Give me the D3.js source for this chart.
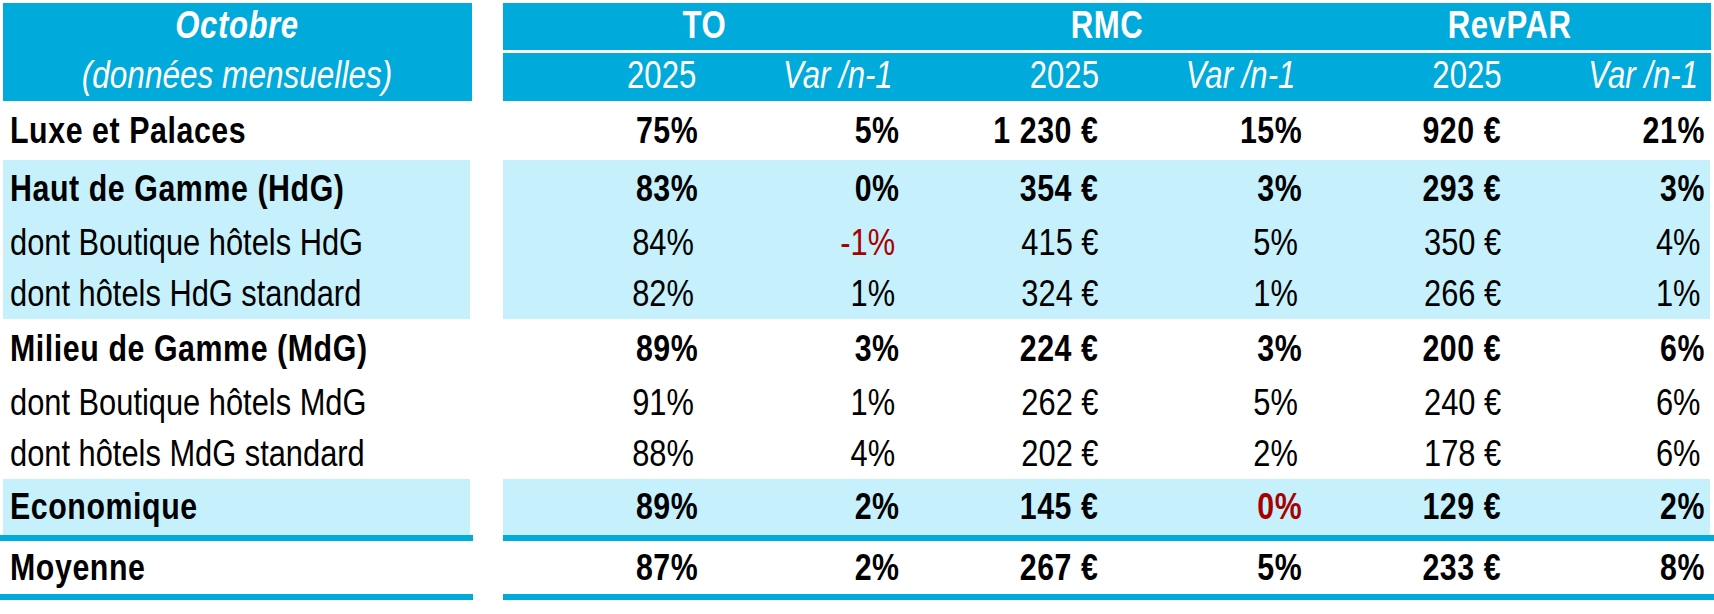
<!doctype html>
<html>
<head>
<meta charset="utf-8">
<script src="https://cdnjs.cloudflare.com/ajax/libs/d3/7.8.5/d3.min.js"></script>
<style>body { margin: 0; background: #fff; }</style>
</head>
<body>
<script>
    // ---- data ----
    var titleLines = ["Octobre", "(données mensuelles)"];
    var groups = ["TO", "RMC", "RevPAR"];
    var subHeaders = ["2025", "Var /n-1"];

    var rowLabels = ["Luxe et Palaces", "Haut de Gamme (HdG)", "dont Boutique hôtels HdG", "dont hôtels HdG standard",
                     "Milieu de Gamme (MdG)", "dont Boutique hôtels MdG", "dont hôtels MdG standard", "Economique", "Moyenne"];
    var rowBold   = [true, true, false, false, true, false, false, true, true];
    var rowShaded = [false, true, true, true, false, false, false, true, false];

    var toValues     = [75, 83, 84, 82, 89, 91, 88, 89, 87];          // %
    var toVar        = [5, 0, -1, 1, 3, 1, 4, 2, 2];                  // %
    var rmcValues    = [1230, 354, 415, 324, 224, 262, 202, 145, 267]; // €
    var rmcVar       = [15, 3, 5, 1, 3, 5, 2, 0, 5];                  // %
    var revparValues = [920, 293, 350, 266, 200, 240, 178, 129, 233]; // €
    var revparVar    = [21, 3, 4, 1, 6, 6, 6, 2, 8];                  // %

    // cells shown in red (negative variations)
    var redCells = [{col: "toVar", row: 2}, {col: "rmcVar", row: 7}];

    // ---- layout ----
    var width = 1714, height = 614;
    var blue = "#00AADB", light = "#C5F0FC", red = "#A80000";
    var rowH = [59, 58, 50, 51, 59, 50, 51, 56, 53];
    var lineH = 6;

    var svg = d3.select("body").append("svg")
                .attr("width", width)
                .attr("height", height);

    // is the narrow font there? if not, squeeze the normal one
    var probe = svg.append("text").attr("font-size", 40).text("dont Boutique hôtels");
    probe.attr("font-family", "'Liberation Sans Narrow', monospace");
    var w1 = probe.node().getComputedTextLength();
    probe.attr("font-family", "monospace");
    var w2 = probe.node().getComputedTextLength();
    probe.remove();
    var hasNarrow = Math.abs(w1 - w2) > 1;
    var family = hasNarrow ? "'Liberation Sans Narrow', 'Arial Narrow', sans-serif" : "'Liberation Sans', Arial, sans-serif";
    var squeeze = hasNarrow ? 1 : 0.82;

    function label(g, x, y, str, o) {
        return g.append("text")
            .attr("transform", "translate(" + x + "," + y + ") scale(" + squeeze + ",1)")
            .attr("font-family", family)
            .attr("font-size", o.size || (o.bold ? 37 : 37.6))
            .attr("font-weight", o.bold ? "bold" : "normal")
            .attr("font-style", o.italic ? "italic" : "normal")
            .attr("letter-spacing", o.bold ? 0.7 : 0)
            .attr("text-anchor", o.anchor || "start")
            .attr("fill", o.fill || "#000")
            .text(str);
    }

    var colKeys = ["toValue", "toVar", "rmcValue", "rmcVar", "revparValue", "revparVar"];
    var columns = {toValue: toValues, toVar: toVar, rmcValue: rmcValues, rmcVar: rmcVar,
                   revparValue: revparValues, revparVar: revparVar};
    var isEuro = function(k) { return k === "rmcValue" || k === "revparValue"; };

    var x = d3.scaleBand().domain(colKeys).range([503, 1711]);
    var xGroup = d3.scaleBand().domain(groups).range([503, 1711]);

    var fr = d3.formatLocale({decimal: ",", thousands: "\u00a0", grouping: [3], currency: ["", "\u00a0€"]});
    var euro = fr.format("$,.0f");
    var pct = function(v) { return v + "%"; };

    // row tops (a separator line sits after Economique)
    var tops = [];
    var yy = 101;
    rowH.forEach(function(h, i) {
        tops.push(yy);
        yy += h;
        if (i === 7) yy += lineH;
    });
    var y = d3.scaleOrdinal().domain(d3.range(rowLabels.length)).range(tops);

    // ---- header ----
    var head = svg.append("g");
    head.append("rect").attr("x", 3).attr("y", 3).attr("width", 469).attr("height", 98).attr("fill", blue);
    head.append("rect").attr("x", 503).attr("y", 3).attr("width", 1208).attr("height", 47).attr("fill", blue);
    head.append("rect").attr("x", 503).attr("y", 53).attr("width", 1208).attr("height", 48).attr("fill", blue);

    label(head, 237, 38, titleLines[0], {bold: true, italic: true, size: 38, anchor: "middle", fill: "#fff"});
    label(head, 237, 87.5, titleLines[1], {italic: true, size: 38.5, anchor: "middle", fill: "#fff"});

    groups.forEach(function(gName) {
        label(head, xGroup(gName) + xGroup.bandwidth() / 2, 38, gName, {bold: true, size: 38, anchor: "middle", fill: "#fff"});
    });
    colKeys.forEach(function(k, i) {
        var sub = subHeaders[i % 2];
        var right = x(k) + x.bandwidth() - (i % 2 ? 13 : 8);
        label(head, right, 87.5, sub, {italic: i % 2 === 1, size: 38, anchor: "end", fill: "#fff"});
    });

    // ---- body ----
    var body = svg.append("g");

    rowLabels.forEach(function(name, r) {
        if (rowShaded[r]) {
            body.append("rect").attr("x", 3).attr("y", y(r)).attr("width", 467).attr("height", rowH[r]).attr("fill", light);
            body.append("rect").attr("x", 503).attr("y", y(r)).attr("width", 1207).attr("height", rowH[r]).attr("fill", light);
        }
    });

    // separator lines under Economique and Moyenne
    [7, 8].forEach(function(r) {
        var ly = y(r) + rowH[r];
        body.append("rect").attr("x", 0).attr("y", ly).attr("width", 473).attr("height", lineH).attr("fill", blue);
        body.append("rect").attr("x", 503).attr("y", ly).attr("width", 1211).attr("height", lineH).attr("fill", blue);
    });

    rowLabels.forEach(function(name, r) {
        var base = y(r) + rowH[r] / 2 + 12;
        label(body, 10, base, name, {bold: rowBold[r]});
        colKeys.forEach(function(k) {
            var v = columns[k][r];
            var isRed = redCells.some(function(c) { return c.col === k && c.row === r; });
            var pad = isEuro(k) ? 8.5 : (rowBold[r] ? 6 : 10.5);
            label(body, x(k) + x.bandwidth() - pad, base, isEuro(k) ? euro(v) : pct(v),
                  {bold: rowBold[r], anchor: "end", fill: isRed ? red : "#000"});
        });
    });
</script>
</body>
</html>
